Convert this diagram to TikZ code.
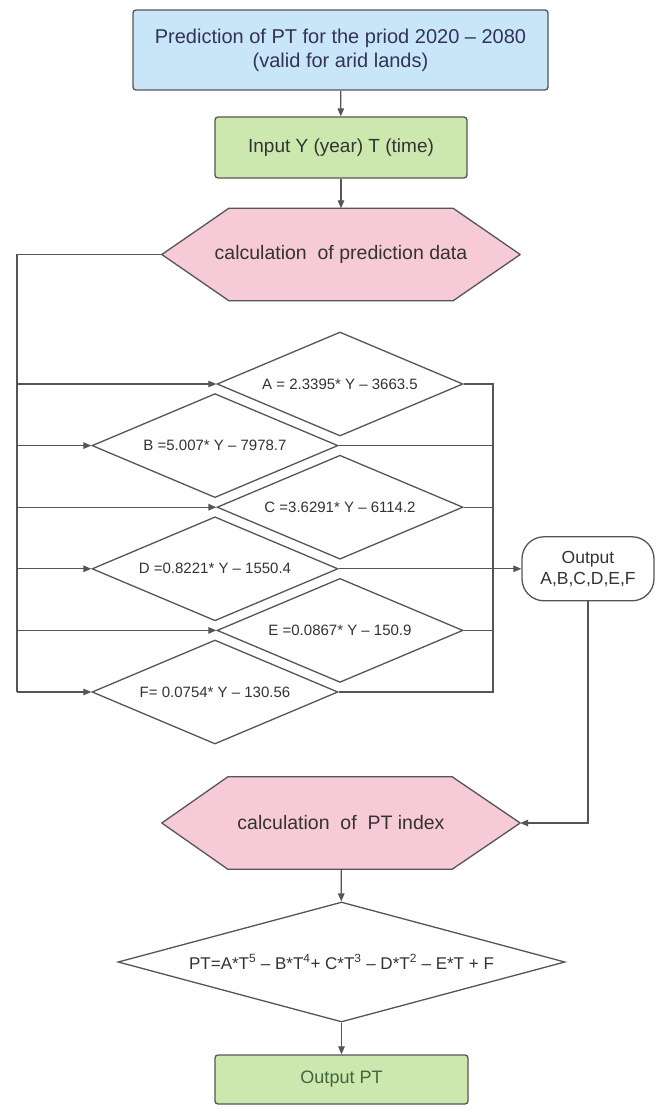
\documentclass[tikz,border=0pt]{standalone}
\usepackage{fontspec}
\setmainfont{Liberation Sans}
\usetikzlibrary{shapes.geometric,arrows.meta,backgrounds}
\definecolor{bord}{HTML}{555555}
\definecolor{bluef}{HTML}{C8E6F8}
\definecolor{greenf}{HTML}{CDE8AE}
\definecolor{pinkf}{HTML}{F6CAD6}
\definecolor{txt}{HTML}{333333}
\tikzset{
  box/.style={draw=bord, line width=1.3pt, rounded corners=3pt, inner sep=0pt, align=center, text=txt},
  hexnode/.style={inner sep=0pt, minimum width=358, minimum height=92, text=txt, font=\fontsize{19.5}{23}\selectfont},
  hexpath/.style={draw=bord, line width=1.3pt, fill=pinkf, line join=round},
  dia/.style={shape=diamond, draw=bord, line width=1.3pt, fill=white, inner sep=0pt, aspect=2.4, minimum width=246, minimum height=104, text=txt, font=\fontsize{15}{18}\selectfont},
  conn/.style={draw=bord, line width=1.2pt},
  arr/.style={conn, -{Triangle[length=8pt,width=6.5pt]}},
}
\begin{document}
\begin{tikzpicture}[x=1pt,y=-1pt]
\useasboundingbox (0,0) rectangle (656,1113);
% top boxes
\node[box, fill=bluef, minimum width=415, minimum height=80, font=\fontsize{20}{24}\selectfont, text=black!75!blue!60!gray] (top) at (340.5,50) {Prediction of PT for the priod 2020 – 2080\\(valid for arid lands)};
\node[box, fill=greenf, minimum width=252, minimum height=61, font=\fontsize{19}{23}\selectfont] (inp) at (341,147.5) {Input Y (year) T (time)};
% hexagon 1
\node[hexnode] (h1) at (341,254.5) {calculation\ \ of prediction data};
% diamonds
\node[dia] (A) at (340,384) {A = 2.3395* Y – 3663.5};
\node[dia] (B) at (215,445.6) {B =5.007* Y – 7978.7};
\node[dia] (C) at (340,507.2) {C =3.6291* Y – 6114.2};
\node[dia] (D) at (215,568.8) {D =0.8221* Y – 1550.4};
\node[dia] (E) at (340,630.4) {E =0.0867* Y – 150.9};
\node[dia] (F) at (215,692) {F= 0.0754* Y – 130.56};
% output box
\node[box, fill=white, rounded corners=22pt, minimum width=132, minimum height=64, font=\fontsize{17.5}{21}\selectfont] (out) at (588,568.8) {Output\\A,B,C,D,E,F};
% hexagon 2
\node[hexnode] (h2) at (341,823) {calculation\ \ of\ \ PT index};
% PT diamond
\node[dia, minimum width=447, minimum height=120, aspect=3.7, font=\fontsize{17}{20}\selectfont] (pt) at (341.5,962) {PT=A*T\textsuperscript{5} – B*T\textsuperscript{4}+ C*T\textsuperscript{3} – D*T\textsuperscript{2} – E*T + F};
% output PT
\node[box, fill=greenf, minimum width=253, minimum height=49, font=\fontsize{18}{22}\selectfont, text=black!70!green!50!gray] (opt) at (341.5,1079.5) {Output PT};
% hexagon outlines behind text
\begin{pgfonlayer}{background}
\path[hexpath] (h1.west) -- ([xshift=67pt]h1.north west) -- ([xshift=-67pt]h1.north east) -- (h1.east) -- ([xshift=-67pt]h1.south east) -- ([xshift=67pt]h1.south west) -- cycle;
\path[hexpath] (h2.west) -- ([xshift=66pt]h2.north west) -- ([xshift=-68pt]h2.north east) -- (h2.east) -- ([xshift=-68pt]h2.south east) -- ([xshift=66pt]h2.south west) -- cycle;
\end{pgfonlayer}
% coordinates of buses
\coordinate (lt) at (17,254.5);
\coordinate (lb) at (17,692);
\coordinate (rt) at (493,384);
\coordinate (rb) at (493,692);
% connectors
\draw[arr] (top) -- (inp);
\draw[arr] (inp) -- (h1);
\draw[conn] (h1.west) -- (lt) -- (lb);
\draw[arr] (lt |- A.west) -- (A.west);
\draw[arr] (lt |- B.west) -- (B.west);
\draw[arr] (lt |- C.west) -- (C.west);
\draw[arr] (lt |- D.west) -- (D.west);
\draw[arr] (lt |- E.west) -- (E.west);
\draw[arr] (lb) -- (F.west);
\draw[conn] (A.east) -- (rt) -- (rb) -- (F.east);
\draw[conn] (B.east) -- (B.east -| rt);
\draw[conn] (C.east) -- (C.east -| rt);
\draw[conn] (E.east) -- (E.east -| rt);
\draw[arr] (D.east) -- (out.west);
\draw[arr] (out.south) |- (h2.east);
\draw[arr] (h2) -- (pt);
\draw[arr] (pt) -- (opt);
\end{tikzpicture}
\end{document}
